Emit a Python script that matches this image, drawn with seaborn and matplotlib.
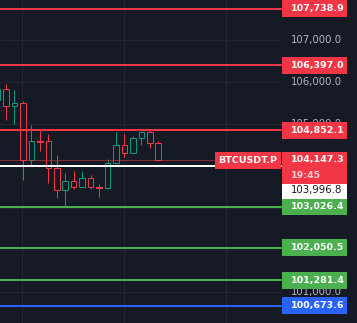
import numpy as np
import pandas as pd
import seaborn as sns
import matplotlib
matplotlib.use("Agg")
import matplotlib.pyplot as plt
from matplotlib.patches import Rectangle

# ---------------- data ----------------
opens  = [105571, 105826, 105436, 105493, 104136, 104590, 104588, 103945, 103421, 103636,
          103493, 103707, 103490, 103469, 104064, 104493, 104302, 104660, 104817, 104540]
highs  = [105900, 105952, 105810, 105540, 104976, 104857, 104762, 104262, 103826, 103881,
          103881, 103779, 103571, 104167, 104810, 104762, 104714, 104833, 104857, 104588]
lows   = [105500, 105095, 105000, 103674, 104017, 104364, 103588, 103245, 103031, 103445,
          103490, 103460, 103269, 103460, 104060, 104222, 104300, 104507, 104436, 104140]
closes = [105833, 105436, 105493, 104136, 104588, 104580, 103945, 103421, 103636, 103493,
          103707, 103493, 103480, 104064, 104493, 104302, 104660, 104817, 104540, 104147.3]

level_prices = [107738.9, 106397.0, 104852.1, 103026.4, 102050.5, 101281.4, 100673.6]
level_kinds  = ["red", "red", "red", "green", "green", "green", "blue"]
last_price = 104147.3
last_time = "19:45"
ref_price = 103996.8
symbol = "BTCUSDT.P"
grid_ticks = [101000, 102000, 103000, 104000, 105000, 106000, 107000, 108000]
# price-scale labels that are visible (others are hidden behind label boxes)
axis_labels = [101000, 105000, 106000, 107000, 108000]

df = pd.DataFrame({"i": np.arange(len(opens)), "open": opens, "high": highs,
                   "low": lows, "close": closes})

# ---------------- style ----------------
BG = "#161a25"
GRID = "#232733"
RED = "#f23645"
TEAL = "#089981"
GREEN = "#4caf50"
BLUE = "#2962ff"
AXTXT = "#b2b5be"
kind_color = {"red": RED, "green": GREEN, "blue": BLUE}

sns.set_theme(style="dark", rc={"axes.facecolor": BG, "figure.facecolor": BG})
plt.rcParams["font.family"] = ["DejaVu Sans"]

W, H = 357, 323
fig = plt.figure(figsize=(W / 100, H / 100), dpi=100)
ax = fig.add_axes([0, 0, 1, 1])
ax.set_facecolor(BG)

# index -> pixel mapping: px = -2.46 + 8.46*i
step, x0 = 8.46, -2.46
ax.set_xlim((0 - x0) / step, (W - x0) / step)
# price -> pixel: y = 40 + (107000-p)*0.042
k = 0.042
ax.set_ylim(107000 - (H - 40) / k, 107000 + 40 / k)
for s in ax.spines.values():
    s.set_visible(False)
ax.set_xticks([])
ax.set_yticks([])

PANE = 281 / W
LW2 = 2 * 0.72
LW1 = 0.72

# grid
for t in grid_ticks:
    ax.axhline(t, xmin=0, xmax=PANE, color=GRID, lw=LW1, zorder=1)
for gx in [22, 124, 226]:
    ax.axvline((gx - x0) / step, color=GRID, lw=LW1, zorder=1)

# candles (hollow)
for _, r in df.iterrows():
    col = TEAL if r.close >= r.open else RED
    ax.vlines(r.i, r.low, r.high, color=col, lw=LW1, zorder=2)
bottoms = np.minimum(df.open, df.close)
heights = np.maximum(np.abs(df.close - df.open), 8)
colors = [TEAL if c >= o else RED for o, c in zip(df.open, df.close)]
ax.bar(df.i, heights, bottom=bottoms, width=0.66, facecolor=BG,
       edgecolor=colors, linewidth=LW1, zorder=3)

# horizontal levels
for p, kd in zip(level_prices, level_kinds):
    ax.axhline(p, xmin=0, xmax=PANE, color=kind_color[kd], lw=LW2, zorder=4)
ax.axhline(ref_price, xmin=0, xmax=PANE, color="white", lw=LW2, zorder=4)
ax.axhline(last_price, xmin=0, xmax=PANE, color=RED, lw=LW1,
           linestyle=(0, (1, 1)), zorder=4)

fig.canvas.draw()

def ypx(p):
    return H - ax.transData.transform((0, p))[1]

def box(x_left, x_right, y_top, y_bot, color, z=6):
    fig.patches.append(Rectangle((x_left / W, 1 - y_bot / H), (x_right - x_left) / W,
                                 (y_bot - y_top) / H, transform=fig.transFigure,
                                 facecolor=color, edgecolor="none", zorder=z))

def txt(x, y, s, color, z=7, ha="left", size=7.3, weight="normal"):
    fig.text(x / W, 1 - y / H, s, color=color, fontsize=size, ha=ha, va="center",
             zorder=z, fontweight=weight)

BX0, BX1, TX = 282, 347, 290.5
BH = 8.5
BOLD = dict(size=6.8, weight="bold")

# axis tick labels (under boxes)
for t in axis_labels:
    txt(TX, ypx(t), f"{t:,.1f}", AXTXT, z=5)

# level label boxes
for p, kd in zip(level_prices, level_kinds):
    y = ypx(p)
    box(BX0, BX1, y - BH, y + BH, kind_color[kd])
    txt(TX, y, f"{p:,.1f}", "white", **BOLD)

# reference (white) label, displaced below the last-price box
yw = 190.5
box(BX0, BX1, yw - BH, yw + BH, "white", z=6)
txt(TX, yw, f"{ref_price:,.1f}", "#131722")

# last price box with countdown
yl = ypx(last_price)
box(BX0, BX1, yl - 8, yl + 24, RED, z=8)
txt(TX, yl, f"{last_price:,.1f}", "white", z=9, **BOLD)
txt(TX, yl + 15.5, last_time, "#fbd0d4", z=9, **BOLD)

# symbol box
box(215, 281, yl - 8, yl + 9, RED, z=8)
txt(248, yl + 0.5, symbol, "white", z=9, ha="center", **BOLD)

fig.savefig("out.png", dpi=100, facecolor=BG)
